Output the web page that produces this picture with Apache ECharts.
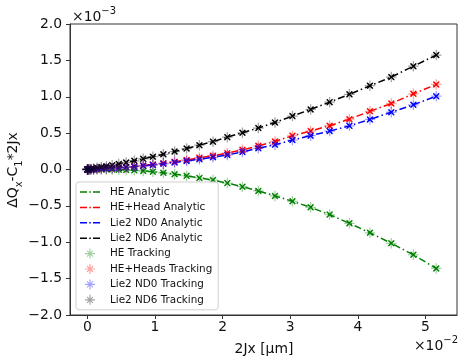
<!DOCTYPE html>
<html>
<head>
<meta charset="utf-8">
<script src="https://cdn.jsdelivr.net/npm/echarts@6/dist/echarts.min.js"></script>
<style>html,body{margin:0;padding:0;background:#fff;}#c{width:458px;height:356px;}</style>
</head>
<body>
<div id="c"></div>
<script>
// 2Jx values (units of 1e-2 um)
var xVals = [0, 0.0057, 0.0229, 0.0516, 0.0917, 0.1433, 0.2064, 0.2809, 0.3669, 0.4644, 0.5733,
  0.6937, 0.8256, 0.9689, 1.1237, 1.29, 1.4677, 1.6569, 1.8576, 2.0697, 2.2933,
  2.5284, 2.7749, 3.0329, 3.3024, 3.5833, 3.8757, 4.1796, 4.4949, 4.8217, 5.16];
// dQx - C1*2Jx values (units of 1e-3)
var heAnalytic = [0, 0.0001, 0.0005, 0.0010, 0.0015, 0.0020, 0.0020, 0.0016, 0.0005, -0.0019, -0.0058,
  -0.0117, -0.0198, -0.0310, -0.0455, -0.0642, -0.0873, -0.116, -0.145, -0.187, -0.237,
  -0.294, -0.363, -0.437, -0.52, -0.62, -0.74, -0.87, -1.014, -1.172, -1.36];
var heHeadAnalytic = [0, 0.0002, 0.0008, 0.0019, 0.0035, 0.0058, 0.0088, 0.0127, 0.0178, 0.0243, 0.0323,
  0.0421, 0.0541, 0.0686, 0.0860, 0.1068, 0.1311, 0.163, 0.19, 0.225, 0.27,
  0.325, 0.386, 0.465, 0.53, 0.602, 0.692, 0.80, 0.907, 1.04, 1.169];
var nd0Analytic = [0, 0.0002, 0.0008, 0.0019, 0.0035, 0.0056, 0.0085, 0.0122, 0.0170, 0.0230, 0.0303,
  0.0392, 0.0500, 0.0630, 0.0784, 0.0968, 0.1182, 0.142, 0.168, 0.2, 0.242,
  0.292, 0.34, 0.405, 0.465, 0.528, 0.6, 0.688, 0.787, 0.889, 1.008];
var nd6Analytic = [0, 0.0009, 0.0035, 0.0079, 0.0143, 0.0225, 0.0328, 0.0452, 0.0600, 0.0773, 0.0972,
  0.1201, 0.1462, 0.1757, 0.2088, 0.2461, 0.2876, 0.334, 0.383, 0.445, 0.505,
  0.57, 0.646, 0.734, 0.826, 0.926, 1.033, 1.152, 1.27, 1.42, 1.573];
var heTracking = heAnalytic.slice();
var heHeadTracking = heHeadAnalytic.slice();
var nd0Tracking = nd0Analytic.slice();
var nd6Tracking = nd6Analytic.slice();

var xTicks = [0, 1, 2, 3, 4, 5];
var yTicks = [-2, -1.5, -1, -0.5, 0, 0.5, 1, 1.5, 2];

var analyticNames = ['HE Analytic', 'HE+Head Analytic', 'Lie2 ND0 Analytic', 'Lie2 ND6 Analytic'];
var trackingNames = ['HE Tracking', 'HE+Heads Tracking', 'Lie2 ND0 Tracking', 'Lie2 ND6 Tracking'];
var colors = ['#008000', '#ff0000', '#0000ff', '#000000'];
var lightColors = ['rgba(0,128,0,0.45)', 'rgba(255,0,0,0.45)', 'rgba(0,0,255,0.45)', 'rgba(0,0,0,0.45)'];

var analyticData = [heAnalytic, heHeadAnalytic, nd0Analytic, nd6Analytic];
var trackingData = [heTracking, heHeadTracking, nd0Tracking, nd6Tracking];

function pairs(ys) { return xVals.map(function (x, i) { return [x, ys[i]]; }); }

var xSym = 'path://M0,1.5 L1.5,0 L10,8.5 L8.5,10 Z M8.5,0 L10,1.5 L1.5,10 L0,8.5 Z';
var starSym = 'path://M0,4.4 L10,4.4 L10,5.6 L0,5.6 Z M4.4,0 L5.6,0 L5.6,10 L4.4,10 Z M1.6,2.4 L2.4,1.6 L8.4,7.6 L7.6,8.4 Z M7.6,1.6 L8.4,2.4 L2.4,8.4 L1.6,7.6 Z';
var dashDotIcon = 'path://M0,0 L7,0 L7,1.5 L0,1.5 Z M9.3,0 L10.8,0 L10.8,1.5 L9.3,1.5 Z M13,0 L20,0 L20,1.5 L13,1.5 Z';

var series = [];
for (var i = 0; i < 4; i++) {
  series.push({
    name: analyticNames[i], type: 'line', data: pairs(analyticData[i]),
    showSymbol: true, symbol: xSym, symbolSize: 6.5,
    itemStyle: { color: colors[i] },
    lineStyle: { color: colors[i], width: 1.5, type: [7, 3, 1.5, 3] },
    animation: false, z: 2
  });
}
for (var j = 0; j < 4; j++) {
  series.push({
    name: trackingNames[j], type: 'scatter', data: pairs(trackingData[j]),
    symbol: starSym, symbolSize: 10.5,
    itemStyle: { color: lightColors[j] },
    animation: false, z: 3
  });
}

var legendData = [];
for (var k = 0; k < 4; k++) legendData.push({ name: analyticNames[k], icon: dashDotIcon, itemStyle: { color: colors[k] } });
for (var m = 0; m < 4; m++) legendData.push({ name: trackingNames[m], icon: starSym, itemStyle: { color: lightColors[m] } });

function fmtY(v) {
  var s = Math.abs(v).toFixed(1);
  return v < 0 ? '\u2212' + s : s;
}

var FS = 13.9;
var chart = echarts.init(document.getElementById('c'), null, { renderer: 'canvas' });
chart.setOption({
  backgroundColor: '#fff',
  animation: false,
  textStyle: { fontFamily: 'DejaVu Sans' },
  grid: { left: 70, right: 1, top: 24, bottom: 41, show: true, borderColor: '#333', borderWidth: 1, backgroundColor: 'transparent' },
  xAxis: {
    type: 'value', min: -0.257, max: 5.467,
    axisLine: { show: true, onZero: false, lineStyle: { color: '#333', width: 1 } },
    axisTick: { show: true, inside: false, length: 4, customValues: xTicks, lineStyle: { color: '#333', width: 1 } },
    axisLabel: { customValues: xTicks, color: '#111', fontSize: FS, fontFamily: 'DejaVu Sans', margin: 5, formatter: function (v) { return String(v); } },
    splitLine: { show: false }
  },
  yAxis: {
    type: 'value', min: -2, max: 2, interval: 0.5,
    axisLine: { show: true, onZero: false, lineStyle: { color: '#333', width: 1 } },
    axisTick: { show: true, inside: false, length: 4, lineStyle: { color: '#333', width: 1 } },
    axisLabel: { color: '#111', fontSize: FS, fontFamily: 'DejaVu Sans', margin: 8, formatter: fmtY },
    splitLine: { show: false }
  },
  legend: {
    orient: 'vertical', left: 76, top: 182,
    data: legendData,
    itemWidth: 20, itemHeight: 10, itemGap: 3.4,
    padding: [4, 6, 4, 4],
    backgroundColor: 'rgba(255,255,255,0.85)',
    borderColor: '#d0d0d0', borderWidth: 1, borderRadius: 3,
    textStyle: { fontSize: 10.4, fontFamily: 'DejaVu Sans', color: '#111', lineHeight: 12, padding: [0, 0, 0, 5] },
    selectedMode: false
  },
  graphic: [
    {
      type: 'text', x: 72, y: 6,
      style: {
        text: '{a|\u00d710}{s|\u22123}',
        rich: {
          a: { fontSize: FS, fontFamily: 'DejaVu Sans', fill: '#111', lineHeight: 18, verticalAlign: 'bottom' },
          s: { fontSize: 10, fontFamily: 'DejaVu Sans', fill: '#111', lineHeight: 10, verticalAlign: 'top' }
        }
      }
    },
    {
      type: 'text', right: 0, top: 335,
      style: {
        text: '{a|\u00d710}{s|\u22122}',
        rich: {
          a: { fontSize: FS, fontFamily: 'DejaVu Sans', fill: '#111', lineHeight: 18, verticalAlign: 'bottom' },
          s: { fontSize: 10, fontFamily: 'DejaVu Sans', fill: '#111', lineHeight: 10, verticalAlign: 'top' }
        }
      }
    },
    {
      type: 'text', x: 264, y: 349,
      style: { text: '2Jx [\u03bcm]', fontSize: FS, fontFamily: 'DejaVu Sans', fill: '#111', align: 'center', verticalAlign: 'middle' }
    },
    {
      type: 'text', x: 15, y: 170, rotation: Math.PI / 2,
      style: {
        text: '{a|\u0394Q}{s|x}{a|-C}{s|1}{a|*2Jx}',
        align: 'center', verticalAlign: 'middle',
        rich: {
          a: { fontSize: FS, fontFamily: 'DejaVu Sans', fill: '#111', lineHeight: 18, verticalAlign: 'top' },
          s: { fontSize: 10, fontFamily: 'DejaVu Sans', fill: '#111', lineHeight: 10, verticalAlign: 'bottom' }
        }
      }
    }
  ],
  series: series
});
</script>
</body>
</html>
